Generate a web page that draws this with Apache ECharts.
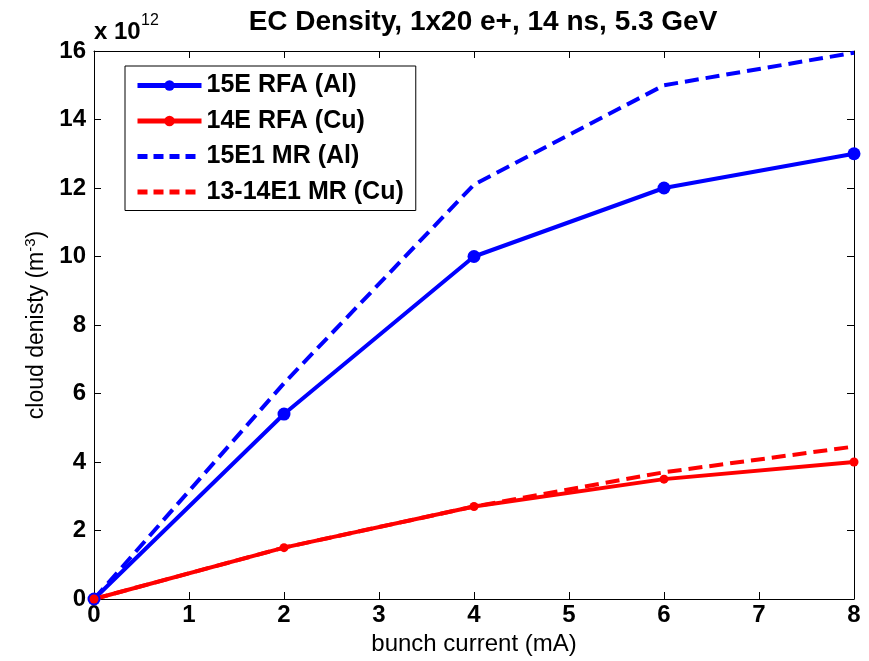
<!DOCTYPE html>
<html>
<head>
<meta charset="utf-8">
<script src="https://cdn.jsdelivr.net/npm/echarts@6/dist/echarts.min.js"></script>
<style>
  html, body { margin: 0; padding: 0; background: #fff; }
  #chart { width: 869px; height: 661px; }
</style>
</head>
<body>
<div id="chart"></div>
<script>
// Bunch current (mA) and cloud density (in units of 1e12 m^-3)
const current = [0, 2, 4, 6, 8];
const rfa15E_Al = [0, 5.4, 10.0, 12.0, 13.0];
const rfa14E_Cu = [0, 1.5, 2.7, 3.5, 4.0];
const mr15E1_Al = [0, 6.3, 12.1, 15.0, 15.95];
const mr1314E1_Cu = [0, 1.5, 2.7, 3.7, 4.45];
const xTicks = [0, 1, 2, 3, 4, 5, 6, 7, 8];
const yTicks = [0, 2, 4, 6, 8, 10, 12, 14, 16];

const FONT = '"Liberation Sans", Arial, sans-serif';
const BLUE = '#0000ff';
const RED = '#ff0000';
const DASH = [14, 7];

const pairs = (ys) => current.map((x, i) => [x, ys[i]]);

const chart = echarts.init(document.getElementById('chart'), null, { renderer: 'canvas' });

const axisCommon = {
  axisLine: { show: true, onZero: false, lineStyle: { color: '#000', width: 1 } },
  axisTick: { show: true, inside: true, length: 7, lineStyle: { color: '#000' } },
  splitLine: { show: false }
};

chart.setOption({
  animation: false,
  backgroundColor: '#fff',
  title: {
    text: 'EC Density, 1x20 e+, 14 ns, 5.3 GeV',
    left: 478, top: 3, textAlign: 'center',
    textStyle: { fontFamily: FONT, fontSize: 28, fontWeight: 'bold', color: '#000' }
  },
  grid: { left: 94, right: 15, top: 51, bottom: 62, outerBoundsMode: 'none', containLabel: false },
  legend: {
    left: 125, top: 66, orient: 'vertical',
    backgroundColor: '#fff', borderColor: '#000', borderWidth: 1,
    padding: [7, 12, 6, 10], itemGap: 10.5, itemWidth: 64, itemHeight: 13,
    textStyle: { fontFamily: FONT, fontSize: 25, lineHeight: 25, fontWeight: 'bold', color: '#000' },
    data: [
      { name: '15E RFA (Al)', lineStyle: { width: 5, type: 'solid' } },
      { name: '14E RFA (Cu)', lineStyle: { width: 5, type: 'solid' } },
      { name: '15E1 MR (Al)', itemStyle: { opacity: 0 }, lineStyle: { width: 5, type: [10, 6] } },
      { name: '13-14E1 MR (Cu)', itemStyle: { opacity: 0 }, lineStyle: { width: 5, type: [10, 6] } }
    ]
  },
  xAxis: [
    Object.assign({}, axisCommon, {
      type: 'value', min: 0, max: 8, interval: 1,
      name: 'bunch current (mA)', nameLocation: 'middle', nameGap: 32,
      nameTextStyle: { fontFamily: FONT, fontSize: 24, color: '#000' },
      axisLabel: {
        fontFamily: FONT, fontSize: 24, fontWeight: 'bold', color: '#000', margin: 4,
        formatter: (v) => xTicks.includes(v) ? String(v) : ''
      }
    }),
    Object.assign({}, axisCommon, {
      type: 'value', min: 0, max: 8, interval: 1, position: 'top',
      axisLabel: { show: false }
    })
  ],
  yAxis: [
    Object.assign({}, axisCommon, {
      type: 'value', min: 0, max: 16, interval: 2,
      name: '{n|cloud denisty (m}{s|-3}{n|)}', nameLocation: 'middle', nameGap: 42,
      nameTextStyle: {
        rich: {
          n: { fontFamily: FONT, fontSize: 23, color: '#000' },
          s: { fontFamily: FONT, fontSize: 15, color: '#000', verticalAlign: 'top', padding: [0, 0, 12, 0] }
        }
      },
      axisLabel: {
        fontFamily: FONT, fontSize: 24, fontWeight: 'bold', color: '#000', margin: 8,
        formatter: (v) => yTicks.includes(v) ? String(v) : ''
      }
    }),
    Object.assign({}, axisCommon, {
      type: 'value', min: 0, max: 16, interval: 2, position: 'right',
      axisLabel: { show: false }
    })
  ],
  graphic: [
    {
      type: 'text', left: 94, top: 20,
      style: { text: 'x 10', fontFamily: FONT, fontSize: 24, fontWeight: 'bold', fill: '#000' }
    },
    {
      type: 'text', left: 141, top: 13,
      style: { text: '12', fontFamily: FONT, fontSize: 16, fill: '#000' }
    }
  ],
  series: [
    {
      name: '15E1 MR (Al)', type: 'line', data: pairs(mr15E1_Al), z: 2,
      showSymbol: false, symbol: 'none', color: BLUE,
      lineStyle: { color: BLUE, width: 4, type: DASH }
    },
    {
      name: '13-14E1 MR (Cu)', type: 'line', data: pairs(mr1314E1_Cu), z: 2,
      showSymbol: false, symbol: 'none', color: RED,
      lineStyle: { color: RED, width: 4, type: DASH }
    },
    {
      name: '15E RFA (Al)', type: 'line', data: pairs(rfa15E_Al), z: 3,
      symbol: 'circle', symbolSize: 13, color: BLUE,
      itemStyle: { color: BLUE },
      lineStyle: { color: BLUE, width: 4 }
    },
    {
      name: '14E RFA (Cu)', type: 'line', data: pairs(rfa14E_Cu), z: 3,
      symbol: 'circle', symbolSize: 9, color: RED,
      itemStyle: { color: RED },
      lineStyle: { color: RED, width: 4 }
    }
  ]
});
</script>
</body>
</html>
